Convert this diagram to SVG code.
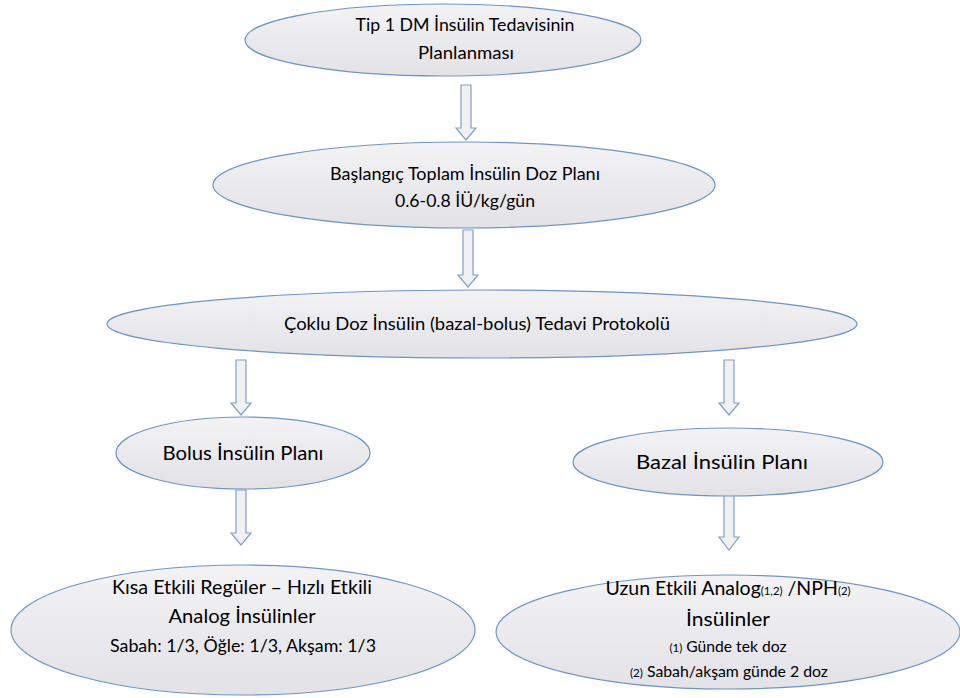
<svg xmlns="http://www.w3.org/2000/svg" width="960" height="698" viewBox="0 0 960 698">
<defs>
<linearGradient id="g" x1="0" y1="0" x2="0" y2="1">
<stop offset="0" stop-color="#f3f3f5"/>
<stop offset="1" stop-color="#e2e2e7"/>
</linearGradient>
</defs>
<style>
.n{fill:url(#g);stroke:#6a96c9;stroke-width:1.2}
.a{fill:#f1f1f3;stroke:#7ea1c9;stroke-width:1.2}
text{font-family:Lato,"Liberation Sans",sans-serif;fill:#000;text-anchor:middle}
.m{font-size:17px}
.l{font-size:20px}
.k{font-size:19px}
.s{font-size:15px}
.x{font-size:11px}
</style>
<rect width="960" height="698" fill="#fff"/>
<g id="connectors">
<path class="a" d="M461,85 H471 V128 H476 L466,140 L456,128 H461 Z"/>
<path class="a" d="M463,230 H473 V275 H478 L468,287 L458,275 H463 Z"/>
<path class="a" d="M236,360 H246 V403 H251 L241,415 L231,403 H236 Z"/>
<path class="a" d="M724,360 H734 V403 H739 L729,415 L719,403 H724 Z"/>
<path class="a" d="M236,490 H246 V533 H251 L241,545 L231,533 H236 Z"/>
<path class="a" d="M724,495 H734 V537 H739 L729,550 L719,537 H724 Z"/>
</g>
<g id="n1">
<ellipse class="n" cx="443" cy="40" rx="198" ry="36"/>
<text class="m" x="465" y="31" textLength="219" lengthAdjust="spacingAndGlyphs">Tip 1 DM İnsülin Tedavisinin</text>
<text class="m" x="466" y="59" textLength="96" lengthAdjust="spacingAndGlyphs">Planlanması</text>
</g>
<g id="n2">
<ellipse class="n" cx="464" cy="185" rx="251" ry="43"/>
<text class="m" x="465" y="180" textLength="270" lengthAdjust="spacingAndGlyphs">Başlangıç Toplam İnsülin Doz Planı</text>
<text class="m" x="465" y="207" textLength="140" lengthAdjust="spacingAndGlyphs">0.6-0.8 İÜ/kg/gün</text>
</g>
<g id="n3">
<ellipse class="n" cx="482" cy="324" rx="375" ry="34"/>
<text class="m" x="477" y="330" textLength="386" lengthAdjust="spacingAndGlyphs">Çoklu Doz İnsülin (bazal-bolus) Tedavi Protokolü</text>
</g>
<g id="n4">
<ellipse class="n" cx="243" cy="453" rx="127" ry="36"/>
<text class="l" x="243" y="460" textLength="161" lengthAdjust="spacingAndGlyphs">Bolus İnsülin Planı</text>
</g>
<g id="n5">
<ellipse class="n" cx="728" cy="462" rx="155" ry="34"/>
<text class="l" x="722" y="469" textLength="172" lengthAdjust="spacingAndGlyphs">Bazal İnsülin Planı</text>
</g>
<g id="n6">
<ellipse class="n" cx="243" cy="630" rx="232" ry="65"/>
<text class="l" x="242" y="594" textLength="260" lengthAdjust="spacingAndGlyphs">Kısa Etkili Regüler – Hızlı Etkili</text>
<text class="l" x="242" y="623" textLength="147" lengthAdjust="spacingAndGlyphs">Analog İnsülinler</text>
<text class="m" x="243" y="652" textLength="266" lengthAdjust="spacingAndGlyphs">Sabah: 1/3, Öğle: 1/3, Akşam: 1/3</text>
</g>
<g id="n7">
<ellipse class="n" cx="728" cy="632" rx="232" ry="57"/>
<text class="k" x="728" y="595" textLength="245" lengthAdjust="spacingAndGlyphs"><tspan>Uzun Etkili Analog</tspan><tspan class="x">(1,2)</tspan><tspan> /NPH</tspan><tspan class="x">(2)</tspan></text>
<text class="k" x="728" y="626" textLength="84" lengthAdjust="spacingAndGlyphs">İnsülinler</text>
<text class="s" x="728" y="652" textLength="117" lengthAdjust="spacingAndGlyphs"><tspan class="x">(1)</tspan> Günde tek doz</text>
<text class="s" x="729" y="677" textLength="198" lengthAdjust="spacingAndGlyphs"><tspan class="x">(2)</tspan> Sabah/akşam günde 2 doz</text>
</g>
</svg>
